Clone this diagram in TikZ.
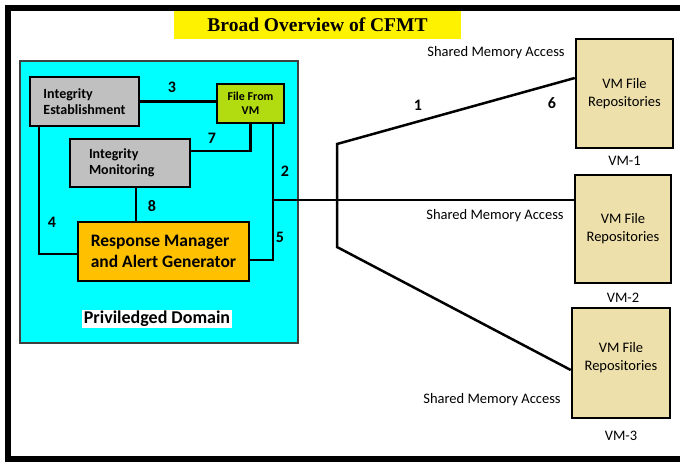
\documentclass[tikz,border=0pt]{standalone}
\usepackage{fontspec}
\setmainfont{Carlito}
\newfontfamily\titlefont{Liberation Serif}
\usetikzlibrary{positioning}
\definecolor{domcyan}{HTML}{00FFFF}
\definecolor{blkgray}{HTML}{C0C0C0}
\definecolor{filegreen}{HTML}{B2DC10}
\definecolor{respamber}{HTML}{FFC000}
\definecolor{vmtan}{HTML}{EEE0AA}
\tikzset{
  blk/.style={draw, rectangle, line width=2.5pt, align=left, inner sep=0pt, fill=blkgray, font=\fontsize{14}{16.5}\selectfont\bfseries},
  fblk/.style={draw, rectangle, line width=2.5pt, align=center, inner sep=0pt, fill=filegreen, font=\fontsize{12}{14}\selectfont\bfseries},
  vblk/.style={draw, rectangle, line width=2.5pt, align=center, inner sep=0pt, fill=vmtan, font=\fontsize{14.5}{18}\selectfont},
  num/.style={font=\fontsize{16}{18}\selectfont\bfseries, inner sep=0pt},
  lbl/.style={font=\fontsize{14.5}{16}\selectfont, inner sep=0pt},
  wire/.style={line width=2.5pt},
}

\begin{document}
\begin{tikzpicture}[x=1pt, y=-1pt]
\useasboundingbox (0,0) rectangle (680,461);

% outer frame (open on the right)
\draw[line width=6pt] (680,8) -- (8,8) -- (8,459) -- (680,459);

\node[fill=yellow, minimum width=287pt, minimum height=28pt, inner sep=0pt,
  font=\titlefont\fontsize{19.5}{22}\selectfont\bfseries] (title) at (317.5,25)
  {Broad Overview of CFMT};

% privileged domain
\node[draw=black!75, line width=1.5pt, fill=domcyan, minimum width=278pt, minimum height=282pt]
  (dom) at (159,202) {};

\node[blk, minimum width=109pt, minimum height=49pt] (est) at (84.5,101.5)
  {Integrity\\Establishment};
\node[fblk, minimum width=67pt, minimum height=39pt] (file) at (250.5,103.5)
  {File From\\VM};
\node[blk, minimum width=120pt, minimum height=48pt, text width=82pt] (mon) at (130,163)
  {Integrity\\Monitoring};
\node[blk, fill=respamber, minimum width=171pt, minimum height=59pt,
  font=\fontsize{17.5}{21}\selectfont\bfseries] (resp) at (163.5,251.5)
  {Response Manager\\and Alert Generator};
\node[fill=white, inner sep=1.5pt, font=\fontsize{18}{20}\selectfont\bfseries] (domlbl) at (157,319)
  {Priviledged Domain};

% VM side
\node[vblk, minimum width=97pt, minimum height=109pt] (vm1) at (624.5,93.5) {VM File\\Repositories};
\node[vblk, minimum width=96pt, minimum height=108pt] (vm2) at (623,229) {VM File\\Repositories};
\node[vblk, minimum width=98pt, minimum height=110pt] (vm3) at (621,363) {VM File\\Repositories\\[-4pt]};

\node[lbl, below=7pt of vm1] (vm1lbl) {VM-1};
\node[lbl, below=9pt of vm2] (vm2lbl) {VM-2};
\node[lbl, below=12pt of vm3] (vm3lbl) {VM-3};

\node[lbl] (sma1) at (496,53) {Shared Memory Access};
\node[lbl] (sma2) at (495,216) {Shared Memory Access};
\node[lbl] (sma3) at (492,400) {Shared Memory Access};

% connectors
\coordinate (j2) at (273,200);
\coordinate (b1) at (337,144);
\coordinate (b2) at (337,247);

\draw[wire] (est.east) -- (est.east -| file.west);
\draw[wire] ([yshift=12pt]mon.east) -| (file.south);
\draw[wire] ([xshift=22.5pt]file.south) |- ([yshift=-8.5pt]resp.east);
\draw[wire] (j2) -- (j2 -| vm2.west);
\draw[wire] ([xshift=10pt]est.south west) |- ([yshift=-2.5pt]resp.west);
\draw[wire] ([xshift=6pt]mon.south) -- ([xshift=6pt]mon.south |- resp.north);
\draw[wire] ([yshift=15.5pt]vm1.west) -- (b1) -- (b2) -- ([yshift=-7pt]vm3.west);

% link numbers
\node[num] (n1) at (418,105) {1};
\node[num] (n2) at (285,171) {2};
\node[num] (n3) at (172,87) {3};
\node[num] (n4) at (52,222) {4};
\node[num] (n5) at (280,237) {5};
\node[num] (n6) at (552,103) {6};
\node[num] (n7) at (212,138) {7};
\node[num] (n8) at (152,206) {8};

\end{tikzpicture}
\end{document}
